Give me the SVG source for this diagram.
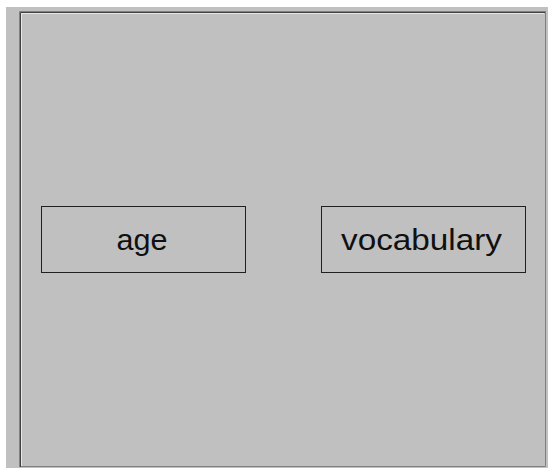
<svg xmlns="http://www.w3.org/2000/svg" width="548" height="468" viewBox="0 0 548 468">
<style>
.node rect{fill:#c0c0c0;stroke:#202020;stroke-width:1}
.node text{font-family:"Liberation Sans",Arial,sans-serif;font-size:30px;fill:#101010;text-anchor:middle}
</style>
<rect x="0" y="0" width="548" height="468" fill="#ffffff"/>
<rect x="6" y="7" width="542" height="461" fill="#c0c0c0"/>
<g id="frame" fill="none">
<path d="M19.5 467 V11.5 H546" stroke="#808080"/>
<path d="M20.5 467 V12.5 H545" stroke="#404040"/>
<path d="M21.5 466 V13.5 H544" stroke="#e8e8e8"/>
<path d="M545.5 12 V466.5 H21" stroke="#808080"/>
</g>
<g id="connectors"></g>
<g id="age" class="node">
<rect x="41.5" y="206.5" width="204" height="66"/>
<text x="142" y="250" textLength="51" lengthAdjust="spacingAndGlyphs">age</text>
</g>
<g id="vocabulary" class="node">
<rect x="321.5" y="206.5" width="204" height="66"/>
<text x="421.5" y="250" textLength="161" lengthAdjust="spacingAndGlyphs">vocabulary</text>
</g>
</svg>
